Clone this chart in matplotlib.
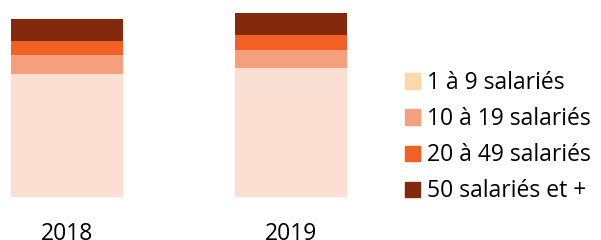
import matplotlib.pyplot as plt
from matplotlib.patches import Patch

plt.rcParams['font.family'] = ['Open Sans', 'DejaVu Sans']

# Data (arbitrary units)
years = ["2018", "2019"]
categories = ["1 à 9 salariés", "10 à 19 salariés", "20 à 49 salariés", "50 salariés et +"]
v_1_9 = [123, 129]
v_10_19 = [19, 17.5]
v_20_49 = [14, 15]
v_50 = [21.5, 22.5]

bar_colors = ["#FBDFD3", "#F7A07E", "#F26025", "#822A0B"]
legend_colors = ["#FDD9A9", "#F7A07E", "#F26025", "#822A0B"]

fig = plt.figure(figsize=(6.01, 2.4), dpi=100)
ax = fig.add_axes([11 / 601, 43 / 240, 336 / 601, 184 / 240])

series = [v_1_9, v_10_19, v_20_49, v_50]
x = range(len(years))
bottom = [0] * len(years)
for vals, col in zip(series, bar_colors):
    ax.bar(x, vals, width=0.5, bottom=bottom, color=col, linewidth=0)
    bottom = [b + v for b, v in zip(bottom, vals)]

ax.set_xlim(-0.25, 1.25)
ax.set_ylim(0, max(bottom))
ax.set_xticks(list(x))
ax.set_xticklabels(years, fontsize=16.5)
ax.tick_params(axis='x', length=0, pad=18)
ax.set_yticks([])
for s in ax.spines.values():
    s.set_visible(False)

handles = [Patch(color=c, label=l) for c, l in zip(legend_colors, categories)]
fig.legend(handles=handles, loc='upper left', bbox_to_anchor=(405 / 601, 1 - 71 / 240),
           frameon=False, fontsize=16.5, handlelength=0.655, handleheight=0.655,
           handletextpad=0.3, labelspacing=0.53, borderpad=0, borderaxespad=0)

fig.savefig("out.png", dpi=100)
